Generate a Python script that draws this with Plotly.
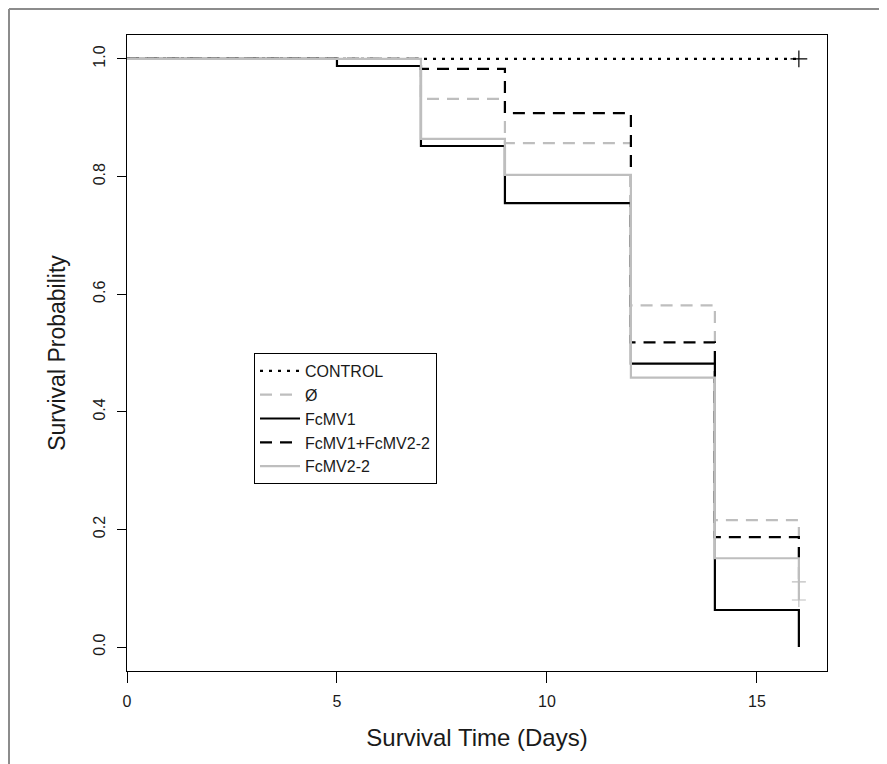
import plotly.graph_objects as go

# ---- data (Kaplan-Meier step curves) ----
series_names = ["CONTROL", "Ø", "FcMV1", "FcMV1+FcMV2-2", "FcMV2-2"]

control_t = [0, 16]
control_s = [1.0, 1.0]

empty_t = [0, 7, 9, 12, 14, 16]
empty_s = [1.0, 0.932, 0.857, 0.581, 0.216, 0.111]

fcmv1_t = [0, 5, 7, 9, 12, 14, 16]
fcmv1_s = [1.0, 0.988, 0.852, 0.755, 0.482, 0.063, 0.0]

combo_t = [0, 7, 9, 12, 14, 16]
combo_s = [1.0, 0.983, 0.908, 0.518, 0.187, 0.151]

fcmv22_t = [0, 7, 9, 12, 14, 16]
fcmv22_s = [1.0, 0.864, 0.803, 0.458, 0.151, 0.080]

# censor marks (+)
censor_control = ([16], [1.0])
censor_empty = ([16], [0.111])
censor_fcmv22 = ([16], [0.080])

x_ticks = [0, 5, 10, 15]
y_ticks = [0.0, 0.2, 0.4, 0.6, 0.8, 1.0]
y_tick_labels = ["0.0", "0.2", "0.4", "0.6", "0.8", "1.0"]

GRAY = "#bebebe"
BLACK = "#000000"
FONT = "Liberation Sans, Arial, sans-serif"
NARROW = "Liberation Sans Narrow, Arial Narrow, Liberation Sans, Arial, sans-serif"
TXT = "#1a1a1a"

styles = [
    (control_t, control_s, BLACK, "3px,6px", 2.2),
    (empty_t, empty_s, GRAY, "12px,8px", 2.2),
    (fcmv1_t, fcmv1_s, BLACK, "solid", 2.2),
    (combo_t, combo_s, BLACK, "12px,8px", 2.2),
    (fcmv22_t, fcmv22_s, GRAY, "solid", 2.2),
]

fig = go.Figure()
for name, (t, s, col, dash, w) in zip(series_names, styles):
    fig.add_trace(go.Scatter(
        x=t, y=s, mode="lines", name=name,
        line=dict(color=col, dash=dash, width=w, shape="hv"),
    ))

for (cx, cy), col, sz in [(censor_control, BLACK, 12), (censor_empty, GRAY, 10), (censor_fcmv22, GRAY, 10)]:
    fig.add_trace(go.Scatter(
        x=cx, y=cy, mode="markers", showlegend=False,
        marker=dict(symbol="cross-thin-open", size=sz, color=col,
                    line=dict(color=col, width=1.2)),
    ))

# page body has an 8px margin: the figure is placed at (8, 8)
OFF = 8
W, H = 887 - OFF, 764 - OFF
L, R, T, B = 127 - OFF, 60, 35 - OFF, 93
pw, ph = W - L - R, H - T - B

def fx(page_px):
    return (page_px - OFF - L) / pw

def fy(page_py):
    return (H - B - (page_py - OFF)) / ph

# outer gray frame (only top & left edges visible in the reference)
fig.add_shape(type="line", xref="paper", yref="paper",
              x0=fx(9), x1=fx(900), y0=fy(9), y1=fy(9),
              line=dict(color="#8c8c8c", width=2))
fig.add_shape(type="line", xref="paper", yref="paper",
              x0=fx(9), x1=fx(9), y0=fy(9), y1=fy(800),
              line=dict(color="#8c8c8c", width=2))

fig.update_layout(
    width=W, height=H,
    margin=dict(l=L, r=R, t=T, b=B, autoexpand=False),
    paper_bgcolor="white", plot_bgcolor="white",
    font=dict(family=FONT, color=TXT),
    legend=dict(
        x=fx(254), y=fy(353), xanchor="left", yanchor="top",
        bordercolor="black", borderwidth=1, bgcolor="white",
        font=dict(size=16, family=FONT, color=TXT),
        tracegroupgap=0, itemwidth=40,
    ),
    xaxis=dict(
        range=[0, 16.67], tickvals=x_ticks, ticktext=[str(v) for v in x_ticks],
        showgrid=False, zeroline=False, showline=True, mirror=True,
        linecolor="black", linewidth=1, ticks="outside", ticklen=11, tickcolor="black",
        tickfont=dict(size=16, family=NARROW, color=TXT),
        ticklabelstandoff=5,
        title=dict(text="Survival Time (Days)", font=dict(size=24, family=FONT, color=TXT),
                   standoff=19),
    ),
    yaxis=dict(
        range=[-0.0407, 1.0407], tickvals=y_ticks, ticktext=y_tick_labels,
        showgrid=False, zeroline=False, showline=True, mirror=True,
        linecolor="black", linewidth=1, ticks="outside", ticklen=9, tickcolor="black",
        tickangle=-90,
        tickfont=dict(size=16, family=NARROW, color=TXT),
        ticklabelstandoff=6,
        title=dict(text="Survival Probability", font=dict(size=23, family=FONT, color=TXT),
                   standoff=18),
    ),
)

fig.write_html("out.html")
